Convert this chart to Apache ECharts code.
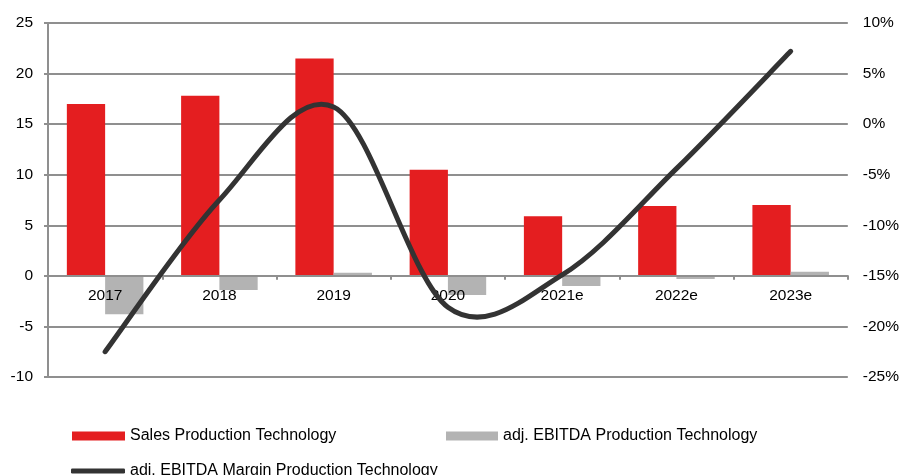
<!DOCTYPE html>
<html>
<head>
<meta charset="utf-8">
<script src="https://cdn.jsdelivr.net/npm/echarts@6/dist/echarts.min.js"></script>
<style>
  html, body { margin: 0; padding: 0; background: #fff; }
  #chart { width: 902px; height: 475px; }
</style>
</head>
<body>
<div id="chart"></div>
<script>
// Production Technology segment: sales, adj. EBITDA (EUR m) and adj. EBITDA margin (%)
const categories = ['2017', '2018', '2019', '2020', '2021e', '2022e', '2023e'];
const sales = [17.0, 17.8, 21.5, 10.5, 5.9, 6.9, 7.0];
const ebitda = [-3.8, -1.4, 0.3, -1.9, -1.0, -0.3, 0.4];
const margin = [-22.5, -7.5, 1.7, -18.1, -14.9, -4.4, 7.2];
const leftTicks = { min: -10, max: 25, interval: 5 };
const rightTicks = { min: -25, max: 10, interval: 5 };

const names = {
  sales: 'Sales Production Technology',
  ebitda: 'adj. EBITDA Production Technology',
  margin: 'adj. EBITDA Margin Production Technology'
};

const FONT = 'Liberation Sans, Arial, sans-serif';
const FS = 15.5;
const LEGEND_FS = 16;
const RED = '#e41e20';
const GREY = '#b3b3b3';
const LINE = '#333333';
const GRID = '#8f8f8f';

const W = 902, H = 475;
const gridBox = { left: 48, right: 54, top: 23, bottom: 98 };
const plotH = H - gridBox.top - gridBox.bottom;
// category axis sits on the zero line of the left value axis
const zeroOffset = -plotH * (0 - leftTicks.min) / (leftTicks.max - leftTicks.min);

const legendText = { fontFamily: FONT, fontSize: LEGEND_FS, color: '#000' };

// Smoothed margin curve: cubic Bezier segments through every point,
// tangents from neighbouring points (Catmull-Rom, 1/6 weighting).
function renderMarginCurve(params, api) {
  if (params.dataIndex !== 0) return null;
  const pts = margin.map((v, i) => api.coord([i, v]));
  const n = pts.length;
  let d = 'M' + pts[0][0] + ' ' + pts[0][1];
  for (let i = 0; i < n - 1; i++) {
    const p0 = pts[Math.max(i - 1, 0)];
    const p1 = pts[i];
    const p2 = pts[i + 1];
    const p3 = pts[Math.min(i + 2, n - 1)];
    const c1x = p1[0] + (p2[0] - p0[0]) / 6;
    const c1y = p1[1] + (p2[1] - p0[1]) / 6;
    const c2x = p2[0] - (p3[0] - p1[0]) / 6;
    const c2y = p2[1] - (p3[1] - p1[1]) / 6;
    d += ' C' + c1x + ' ' + c1y + ' ' + c2x + ' ' + c2y + ' ' + p2[0] + ' ' + p2[1];
  }
  return {
    type: 'path',
    shape: { pathData: d },
    style: { fill: null, stroke: LINE, lineWidth: 5, lineCap: 'round', lineJoin: 'round' }
  };
}

const chart = echarts.init(document.getElementById('chart'), null, { renderer: 'canvas' });
chart.setOption({
  animation: false,
  backgroundColor: '#fff',
  grid: { left: gridBox.left, right: gridBox.right, top: gridBox.top, bottom: gridBox.bottom, containLabel: false },
  legend: [
    {
      data: [names.sales], left: 72, top: 428, padding: 0,
      itemWidth: 53, itemHeight: 9, itemGap: 5, icon: 'rect', textStyle: legendText,
      selectedMode: false
    },
    {
      data: [names.ebitda], left: 446, top: 428, padding: 0,
      itemWidth: 52, itemHeight: 9, icon: 'rect', textStyle: legendText,
      selectedMode: false
    },
    {
      data: [{ name: names.margin, icon: 'roundRect', itemStyle: { color: LINE } }],
      left: 71, top: 463, padding: 0,
      itemWidth: 54, itemHeight: 5, textStyle: legendText,
      selectedMode: false
    }
  ],
  xAxis: {
    type: 'category',
    data: categories,
    z: 3,
    offset: zeroOffset,
    axisLine: { onZero: false, lineStyle: { color: GRID, width: 2 } },
    axisTick: { show: true, alignWithLabel: false, length: 4, lineStyle: { color: GRID, width: 2 } },
    axisLabel: { fontFamily: FONT, fontSize: FS, color: '#000', margin: 12 },
    splitLine: { show: false }
  },
  yAxis: [
    {
      type: 'value',
      min: leftTicks.min, max: leftTicks.max, interval: leftTicks.interval,
      axisLine: { show: true, lineStyle: { color: GRID, width: 2 } },
      axisTick: { show: true, length: 4, lineStyle: { color: GRID, width: 2 } },
      axisLabel: { fontFamily: FONT, fontSize: FS, color: '#000', margin: 15 },
      splitLine: { show: true, lineStyle: { color: GRID, width: 2 } }
    },
    {
      type: 'value',
      min: rightTicks.min, max: rightTicks.max, interval: rightTicks.interval,
      axisLine: { show: false },
      axisTick: { show: false },
      axisLabel: { fontFamily: FONT, fontSize: FS, color: '#000', margin: 15, formatter: '{value}%' },
      splitLine: { show: false }
    }
  ],
  series: [
    {
      name: names.sales, type: 'bar', data: sales, yAxisIndex: 0,
      barGap: '0%', barCategoryGap: '33%',
      itemStyle: { color: RED }, z: 2
    },
    {
      name: names.ebitda, type: 'bar', data: ebitda, yAxisIndex: 0,
      barGap: '0%', barCategoryGap: '33%',
      itemStyle: { color: GREY }, z: 2
    },
    {
      name: names.margin, type: 'custom', yAxisIndex: 1,
      data: margin.map((v, i) => [i, v]),
      encode: { x: 0, y: 1 },
      renderItem: renderMarginCurve,
      itemStyle: { color: LINE },
      z: 5
    }
  ]
});
</script>
</body>
</html>
